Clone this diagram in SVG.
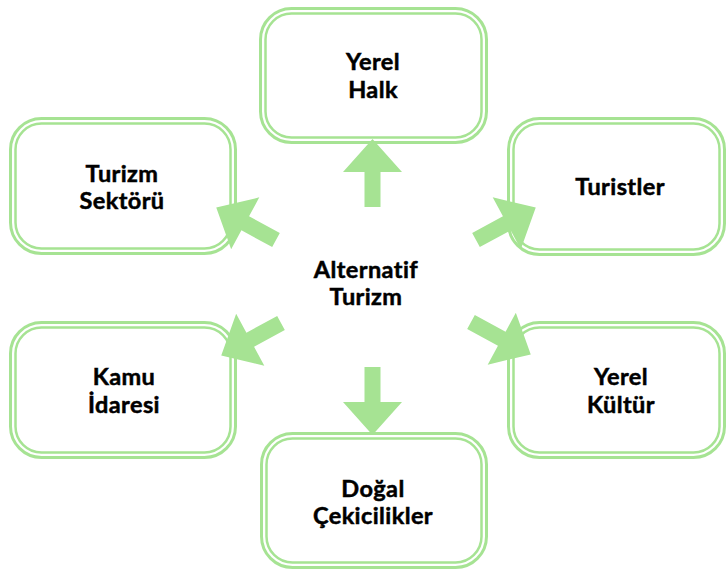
<svg xmlns="http://www.w3.org/2000/svg" width="726" height="570" viewBox="0 0 726 570">
<style>
.o{fill:#ffffff;stroke:#a6e393;stroke-width:3}
.i{fill:none;stroke:#a6e393;stroke-width:2.5}
.t{font-family:Lato,"Open Sans","DejaVu Sans",sans-serif;font-weight:bold;font-size:23.5px;letter-spacing:0.4px;fill:#000;stroke:#000;stroke-width:0.5;text-anchor:middle}
.a{fill:#a6e393}
</style>
<defs>
<polygon id="arr" points="0,-8 35,-8 35,-29.5 68,0 35,29.5 35,8 0,8"/>
</defs>
<rect width="726" height="570" fill="#ffffff"/>
<g id="yerel-halk">
<rect class="o" x="260.5" y="8.5" width="226" height="134" rx="31"/>
<rect class="i" x="265.5" y="13.5" width="216" height="124" rx="26"/>
<text class="t" x="373" y="70">Yerel</text>
<text class="t" x="373" y="98">Halk</text>
</g>
<g id="turizm-sektoru">
<rect class="o" x="10.5" y="118.5" width="225" height="135" rx="31"/>
<rect class="i" x="15.5" y="123.5" width="215" height="125" rx="26"/>
<text class="t" x="122" y="182">Turizm</text>
<text class="t" x="122" y="209">Sektörü</text>
</g>
<g id="turistler">
<rect class="o" x="508.5" y="118.5" width="216" height="136" rx="31"/>
<rect class="i" x="513.5" y="123.5" width="206" height="126" rx="26"/>
<text class="t" x="620" y="195">Turistler</text>
</g>
<g id="kamu-idaresi">
<rect class="o" x="10.5" y="322.5" width="225" height="135" rx="31"/>
<rect class="i" x="15.5" y="327.5" width="215" height="125" rx="26"/>
<text class="t" x="124" y="385">Kamu</text>
<text class="t" x="124" y="413">İdaresi</text>
</g>
<g id="yerel-kultur">
<rect class="o" x="508.5" y="322.5" width="216" height="135" rx="31"/>
<rect class="i" x="513.5" y="327.5" width="206" height="125" rx="26"/>
<text class="t" x="621" y="385">Yerel</text>
<text class="t" x="621" y="413">Kültür</text>
</g>
<g id="dogal-cekicilikler">
<rect class="o" x="261.5" y="433.5" width="225" height="134" rx="31"/>
<rect class="i" x="266.5" y="438.5" width="215" height="124" rx="26"/>
<text class="t" x="373" y="497">Doğal</text>
<text class="t" x="373" y="524">Çekicilikler</text>
</g>
<g id="alternatif-turizm">
<text class="t" x="366" y="278">Alternatif</text>
<text class="t" x="366" y="305">Turizm</text>
</g>
<g id="connectors" class="a">
<use href="#arr" transform="translate(372.5,207) rotate(-90)"/>
<use href="#arr" transform="translate(372.5,367) rotate(90)"/>
<use href="#arr" transform="translate(276,240) rotate(208.5)"/>
<use href="#arr" transform="translate(476,240) rotate(-28.5)"/>
<use href="#arr" transform="translate(471,322) rotate(28.5)"/>
<use href="#arr" transform="translate(281,323) rotate(151.5)"/>
</g>
</svg>
